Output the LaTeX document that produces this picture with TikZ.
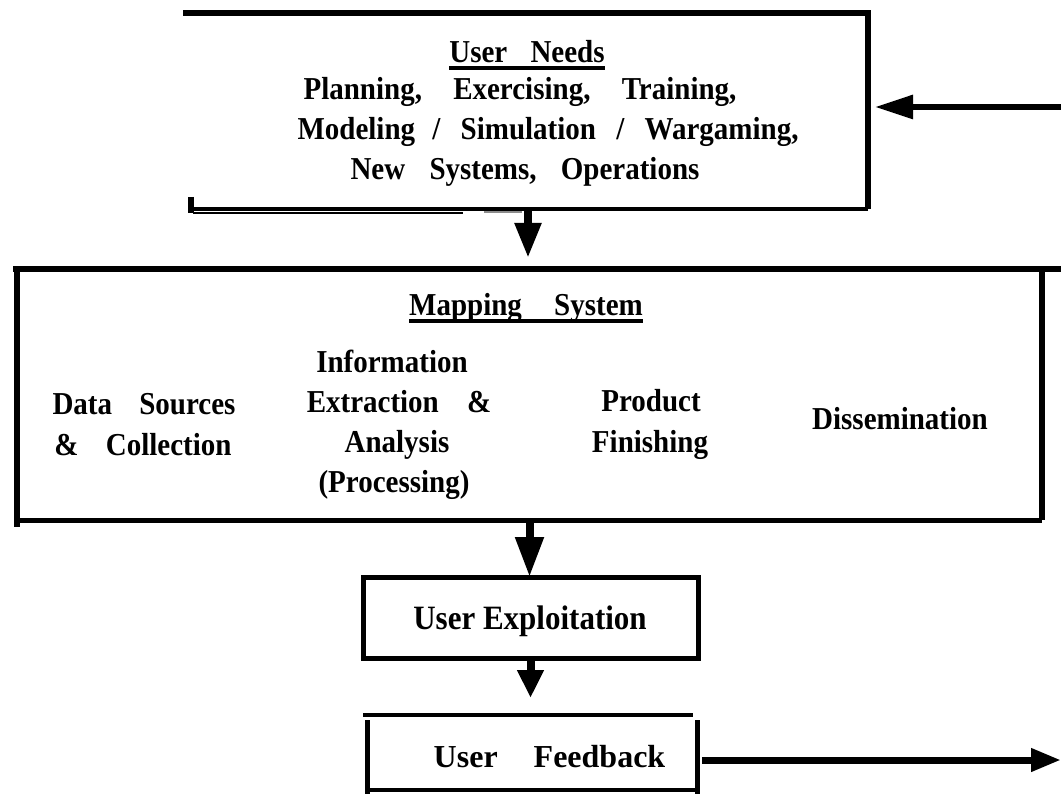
\documentclass[tikz,border=0pt]{standalone}
\usepackage{fontspec}
\setmainfont{Liberation Serif}
\usepackage{graphicx}
\usetikzlibrary{arrows.meta,calc}

% slightly tall lettering for the box texts
\newcommand{\tallt}[1]{\scalebox{1}[1.1]{#1}}
% wide gap between words: one real space plus extra room
\newcommand{\gap}[1]{\ \hspace{#1}}
% heavy underline for the box titles
\newsavebox\ulbox
\newcommand{\uline}[1]{\sbox\ulbox{#1}\rlap{\rule[-7pt]{\wd\ulbox}{3.5pt}}\usebox\ulbox}

\tikzset{
  txt/.style={font=\fontsize{29}{40}\selectfont\bfseries, inner sep=0pt, anchor=base},
  big/.style={font=\fontsize{31}{40}\selectfont\bfseries, inner sep=0pt, anchor=base},
  bigger/.style={font=\fontsize{32}{40}\selectfont\bfseries, inner sep=0pt, anchor=base},
  frame/.style={inner sep=0pt, outer sep=0pt},
  arr/.style={line width=8pt, -{Triangle[width=26pt,length=36pt]}},
}

\begin{document}
\begin{tikzpicture}[x=1pt,y=-1pt]
\useasboundingbox (0,0) rectangle (1061,794);
\fill[white] (0,0) rectangle (1061,794);

% ---- User Needs box (open on the left) ----
\node[frame, minimum width=680pt, minimum height=196pt] (un) at (528,111) {};
\draw[line width=6pt, line join=miter] ($(un.north west)+(-5,0)$) -- (un.north east) -- (un.south east);
\draw[line width=4pt] (un.south east) -- (un.south west);
\draw[line width=6pt] ($(un.south west)+(3,-12)$) -- ($(un.south west)+(3,4)$);
% faint doubled stroke under the bottom edge
\draw[line width=2pt] ($(un.south west)+(5,4)$) -- ($(un.south west)+(275,4)$);
\draw[line width=1.2pt, black!45] ($(un.south west)+(296,3)$) -- ($(un.south west)+(334,3)$);

\node[txt] (untitle) at (527,63) {\uline{\tallt{User\gap{16pt}Needs}}};
\node[txt] (un2) at (520,100) {\tallt{Planning,\gap{24pt}Exercising,\gap{24pt}Training,}};
\node[txt] (un3) at (548,140) {\tallt{Modeling\gap{10pt}/\gap{13pt}Simulation\gap{13pt}/\gap{13pt}Wargaming,}};
\node[txt] (un4) at (525,180) {\tallt{New\gap{17pt}Systems,\gap{17pt}Operations}};

% ---- Mapping System box ----
\node[frame, minimum width=1025pt, minimum height=251pt] (ms) at (529.5,394.5) {};
\draw[line width=6pt] ($(ms.north west)+(-4,0)$) -- ($(ms.north east)+(19,0)$);
\draw[line width=6pt] (ms.north east) -- (ms.south east);
\draw[line width=6pt] (ms.north west) -- ($(ms.south west)+(0,7)$);
\draw[line width=5pt] (ms.south west) -- (ms.south east);

\node[txt] (mstitle) at (526,316) {\uline{\tallt{Mapping\gap{25pt}System}}};
\node[txt] (ds1) at (144,415) {\tallt{Data\gap{20pt}Sources}};
\node[txt] (ds2) at (143,455) {\tallt{\&\gap{20pt}Collection}};
\node[txt] (ie1) at (392,373) {\tallt{Information}};
\node[txt] (ie2) at (399,413) {\tallt{Extraction\gap{21pt}\&}};
\node[txt] (ie3) at (397,453) {\tallt{Analysis}};
\node[txt] (ie4) at (394,492) {\tallt{(Processing)}};
\node[txt] (pf1) at (651,412) {\tallt{Product}};
\node[txt] (pf2) at (650,453) {\tallt{Finishing}};
\node[txt] (dis) at (900,429) {\tallt{Dissemination}};

% ---- User Exploitation box ----
\node[draw, line width=5pt, frame, minimum width=335pt, minimum height=81pt] (ue) at (530.5,617.5) {};
\node[big] (uelabel) at (530,629) {\tallt{User Exploitation}};

% ---- User Feedback box ----
\node[frame, minimum width=330pt, minimum height=75pt] (uf) at (532,752.5) {};
\draw[line width=4pt] ($(uf.north west)+(-4,0)$) -- ($(uf.north east)+(-4,0)$);
\draw[line width=5pt] ($(uf.north west)+(0,5)$) -- ($(uf.south west)+(0,4)$);
\draw[line width=5pt] ($(uf.north east)+(0,5)$) -- ($(uf.south east)+(0,4)$);
\draw[line width=4pt] (uf.south west) -- ($(uf.south east)+(-2,0)$);
\node[bigger] (uflabel) at (549.5,767) {User\gap{28pt}Feedback};

% ---- connectors ----
\draw[arr, -{Triangle[width=25pt,length=35pt]}] (un.south) -- ($(un.south |- ms.north)+(0,-11)$);
\draw[arr, -{Triangle[width=27pt,length=40pt]}] (ms.south) -- (ms.south |- ue.north);
\draw[arr, -{Triangle[width=25pt,length=28pt]}] (ue.south) -- ($(ue.south |- uf.north)+(0,-17)$);

\coordinate (rin) at (1061,107);
\draw[line width=6pt, -{Triangle[width=23pt,length=38pt]}] (rin) -- ($(rin -| un.east)+(7,0)$);

\coordinate (rout) at (1061,760);
\draw[line width=7pt, -{Triangle[width=22pt,length=30pt]}] ($(uf.east |- rout)+(5,0)$) -- (rout);
\end{tikzpicture}
\end{document}
